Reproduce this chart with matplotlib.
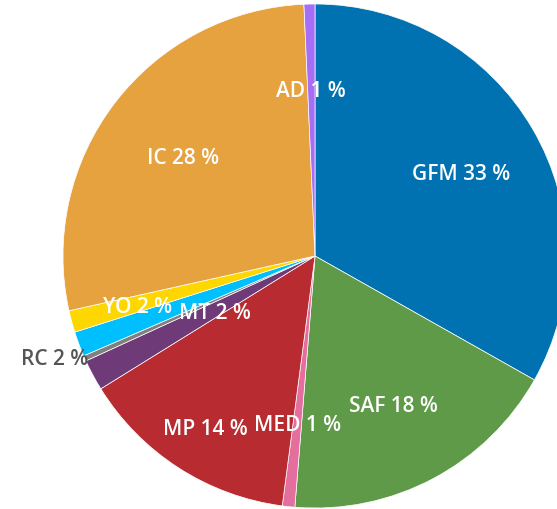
import numpy as np
import matplotlib
matplotlib.use("Agg")
import matplotlib.pyplot as plt

categories = ["GFM", "SAF", "MED", "MP", "MT", "RC", "", "YO", "IC", "AD"]
values = [33.2, 18.1, 0.8, 14.1, 2.0, 0.35, 1.6, 1.4, 27.8, 0.7]
label_text = ["GFM 33 %", "SAF 18 %", "MED 1 %", "MP 14 %", "MT 2 %", "RC 2 %", "", "YO 2 %", "IC 28 %", "AD 1 %"]
colors = ["#0072B1", "#5E9A48", "#E46E9E", "#B82B30", "#6E3A78", "#808080",
          "#00BFFF", "#FFD700", "#E6A23E", "#A66EF7"]
label_r = [0.67, 0.66, 0.66, 0.80, 0.45, 1.10, 0.6, 0.73, 0.66, 0.67]
label_col = ["white"] * 10
label_col[5] = "#555555"

W, H = 557, 510
cx, cy, R = 315, 257, 252
fig = plt.figure(figsize=(W / 100, H / 100), dpi=100)
ax = fig.add_axes([0, 0, 1, 1])
ax.axis("off")

ax.pie(values, colors=colors, startangle=90, counterclock=False, radius=1,
       wedgeprops=dict(edgecolor="white", linewidth=0.5))
ax.set_xlim(-cx / R, (W - cx) / R)
ax.set_ylim(-(H - cy) / R, cy / R)
ax.set_aspect("auto")

total = sum(values)
cum = np.cumsum([0] + values)
dy = -3 / R
for i, t in enumerate(label_text):
    if not t:
        continue
    mid = (cum[i] + cum[i + 1]) / 2 / total * 2 * np.pi
    r = label_r[i]
    x = r * np.sin(mid)
    y = r * np.cos(mid) + dy
    ha = "center"
    if i == 5:
        ha = "right"
        x, y = -0.90, -0.405
    ax.text(x, y, t, color=label_col[i], ha=ha, va="center",
            fontsize=15, fontweight="semibold", family=["Open Sans", "DejaVu Sans"])

fig.savefig("out.png", dpi=100)
